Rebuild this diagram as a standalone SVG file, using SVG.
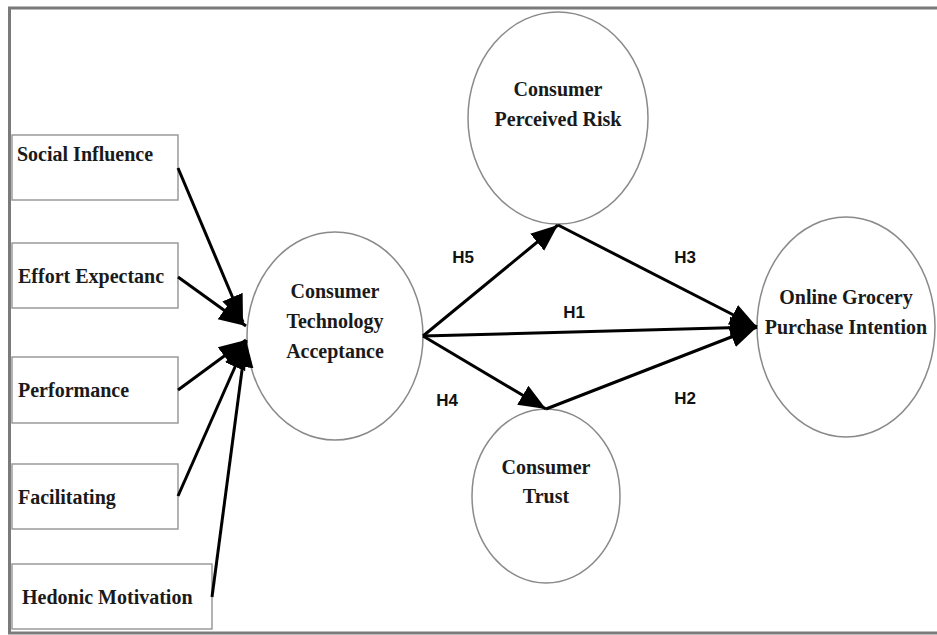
<svg xmlns="http://www.w3.org/2000/svg" width="937" height="635" viewBox="0 0 937 635">
<style>
.box{fill:#fff;stroke:#9a9a9a;stroke-width:1.5}
.ell{fill:#fff;stroke:#8a8a8a;stroke-width:1.5}
.t{font-family:"Liberation Serif","Times New Roman",serif;font-weight:bold;font-size:20px;fill:#1a1a1a}
.tc{font-family:"Liberation Serif","Times New Roman",serif;font-weight:bold;font-size:20px;fill:#1a1a1a;text-anchor:middle}
.h{font-family:"Liberation Sans",Arial,sans-serif;font-weight:bold;font-size:17px;fill:#111;text-anchor:middle}
.c{stroke:#000;stroke-width:3;fill:none;marker-end:url(#ah)}
</style>
<defs>
<marker id="ah" markerUnits="userSpaceOnUse" markerWidth="30" markerHeight="30" viewBox="0 0 30 30" refX="27" refY="15" orient="auto">
<path d="M0,4 L27,15 L0,26 Z" fill="#000"/>
</marker>
</defs>
<rect width="937" height="635" fill="#fff"/>
<path d="M940,8 H9.5 V633 H940" fill="none" stroke="#7a7a7a" stroke-width="3"/>
<g id="social-influence"><rect class="box" x="12" y="135" width="166" height="65"/><text class="t" x="17" y="161">Social Influence</text></g>
<g id="effort-expectanc"><rect class="box" x="12" y="243" width="166" height="65"/><text class="t" x="18" y="283">Effort Expectanc</text></g>
<g id="performance"><rect class="box" x="12" y="357" width="166" height="66"/><text class="t" x="18" y="397">Performance</text></g>
<g id="facilitating"><rect class="box" x="12" y="464" width="166" height="65"/><text class="t" x="18" y="504">Facilitating</text></g>
<g id="hedonic-motivation"><rect class="box" x="12" y="564" width="200" height="65"/><text class="t" x="22" y="604">Hedonic Motivation</text></g>
<g id="cta"><ellipse class="ell" cx="335" cy="336" rx="88" ry="104"/><text class="tc" x="335" y="298">Consumer</text><text class="tc" x="335" y="328">Technology</text><text class="tc" x="335" y="358">Acceptance</text></g>
<g id="cpr"><ellipse class="ell" cx="558" cy="118" rx="90" ry="106"/><text class="tc" x="558" y="96">Consumer</text><text class="tc" x="558" y="126">Perceived Risk</text></g>
<g id="trust"><ellipse class="ell" cx="546" cy="496" rx="74" ry="87"/><text class="tc" x="546" y="474">Consumer</text><text class="tc" x="546" y="503">Trust</text></g>
<g id="ogpi"><ellipse class="ell" cx="846" cy="327" rx="89" ry="110"/><text class="tc" x="846" y="304">Online Grocery</text><text class="tc" x="846" y="334">Purchase Intention</text></g>
<g id="connectors">
<line class="c" x1="178" y1="168" x2="243" y2="322"/>
<line class="c" x1="178" y1="277" x2="246" y2="326"/>
<line class="c" x1="178" y1="390" x2="246" y2="340"/>
<line class="c" x1="178" y1="496" x2="246" y2="342"/>
<line class="c" x1="212" y1="597" x2="246" y2="340"/>
<line class="c" x1="423" y1="336" x2="558" y2="225"/>
<line class="c" x1="423" y1="336" x2="546" y2="409"/>
<line class="c" x1="423" y1="336" x2="757" y2="327"/>
<line class="c" x1="558" y1="225" x2="757" y2="327"/>
<line class="c" x1="546" y1="409" x2="757" y2="327"/>
</g>
<g id="labels">
<text class="h" x="463" y="263">H5</text>
<text class="h" x="447" y="406">H4</text>
<text class="h" x="574" y="318">H1</text>
<text class="h" x="685" y="263">H3</text>
<text class="h" x="685" y="404">H2</text>
</g>
</svg>
